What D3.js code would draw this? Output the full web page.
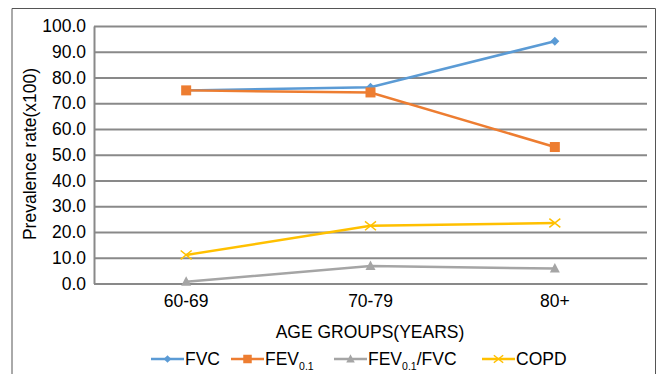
<!DOCTYPE html>
<html><head><meta charset="utf-8">
<script src="https://cdn.jsdelivr.net/npm/d3@7"></script>
<style>body{margin:0;background:#fff}svg{display:block;font-family:"Liberation Sans",Arial,sans-serif}</style>
</head><body>
<svg id="c" width="660" height="374"></svg>
<script>
const categories = ["60-69", "70-79", "80+"];
const fvc = [75.0, 76.2, 94.1];
const fev = [75.0, 74.2, 53.0];
const fevFvc = [0.7, 6.8, 5.8];
const copd = [11.1, 22.4, 23.5];
const yTicks = [0,10,20,30,40,50,60,70,80,90,100];

const series = [
  {name:"FVC", sub:null, values:fvc, color:"#5B9BD5", marker:"diamond"},
  {name:"FEV", sub:"0.1", post:"", values:fev, color:"#ED7D31", marker:"square"},
  {name:"FEV", sub:"0.1", post:"/FVC", values:fevFvc, color:"#A5A5A5", marker:"triangle"},
  {name:"COPD", sub:null, values:copd, color:"#FFC000", marker:"x"}
];

const FS = 17.5;
const svg = d3.select("#c");
const L=94, R=647, T=26, B=283.5;
const x = d3.scaleBand().domain(categories).range([L,R]);
const y = d3.scaleLinear().domain([0,100]).range([B,T]);

// outer border
svg.append("path").attr("d","M12,400V8.5H655.5V400").attr("fill","none").attr("stroke","#555").attr("stroke-width",1);

// gridlines
const grid = svg.append("g").attr("transform",`translate(${L},0)`)
  .call(d3.axisLeft(y).tickValues(yTicks).tickSize(-(R-L)).tickFormat(""));
grid.selectAll("line").attr("stroke","#898989").attr("stroke-width",2);
grid.select(".domain").remove();

// y axis labels
const ya = svg.append("g").attr("transform",`translate(${L},0)`)
  .call(d3.axisLeft(y).tickValues(yTicks).tickSize(0).tickPadding(8).tickFormat(d3.format(".1f")));
ya.select(".domain").attr("stroke","#898989").attr("stroke-width",2);
ya.selectAll("text").attr("font-size",FS).attr("fill","#000").attr("font-family","Liberation Sans, Arial, sans-serif");

// x axis
const xa = svg.append("g").attr("transform",`translate(0,${B})`)
  .call(d3.axisBottom(x).tickSize(0).tickPadding(11));
xa.select(".domain").attr("stroke","#898989").attr("stroke-width",2);
xa.selectAll("text").attr("font-size",FS).attr("fill","#000").attr("font-family","Liberation Sans, Arial, sans-serif");

// axis titles
svg.append("text").attr("x",370).attr("y",338).attr("text-anchor","middle").attr("font-size",FS).text("AGE GROUPS(YEARS)");
svg.append("text").attr("transform","translate(36,154) rotate(-90)").attr("text-anchor","middle").attr("font-size",FS).text("Prevalence rate(x100)");

function drawMarker(g, type, cx, cy, color, s){
  if(type==="diamond"){
    g.append("path").attr("d",`M${cx},${cy-s}L${cx+s},${cy}L${cx},${cy+s}L${cx-s},${cy}Z`).attr("fill",color);
  } else if(type==="square"){
    g.append("rect").attr("x",cx-s).attr("y",cy-s).attr("width",2*s).attr("height",2*s).attr("fill",color);
  } else if(type==="triangle"){
    g.append("path").attr("d",`M${cx},${cy-s*1.1}L${cx+s},${cy+s*0.8}L${cx-s},${cy+s*0.8}Z`).attr("fill",color);
  } else {
    g.append("path").attr("d",`M${cx-s},${cy-s*0.8}L${cx+s},${cy+s*0.8}M${cx-s},${cy+s*0.8}L${cx+s},${cy-s*0.8}`).attr("stroke",color).attr("stroke-width",1.5);
  }
}
const msize = {diamond:4.5, square:5, triangle:5, x:5.5};

const line = d3.line().x((d,i)=>x(categories[i])+x.bandwidth()/2).y(d=>y(d));
const plot = svg.append("g");
series.forEach(s=>{
  plot.append("path").datum(s.values).attr("d",line).attr("fill","none").attr("stroke",s.color).attr("stroke-width",2.5);
});
series.forEach(s=>{
  const g = plot.append("g");
  s.values.forEach((v,i)=>drawMarker(g,s.marker,x(categories[i])+x.bandwidth()/2,y(v),s.color,msize[s.marker]));
});

// legend
const legX = [151, 231, 334, 482];
const legY = 359;
series.forEach((s,i)=>{
  const g = svg.append("g");
  g.append("line").attr("x1",legX[i]).attr("x2",legX[i]+33).attr("y1",legY).attr("y2",legY).attr("stroke",s.color).attr("stroke-width",2.5);
  drawMarker(g,s.marker,legX[i]+16.5,legY,s.color,msize[s.marker]*0.85);
  const t = g.append("text").attr("x",legX[i]+34).attr("y",legY+6).attr("font-size",FS);
  t.append("tspan").text(s.name);
  if(s.sub){
    t.append("tspan").attr("font-size",10.5).attr("dy",5).text(s.sub);
    if(s.post) t.append("tspan").attr("font-size",FS).attr("dy",-5).text(s.post);
  }
});
</script>
</body></html>
